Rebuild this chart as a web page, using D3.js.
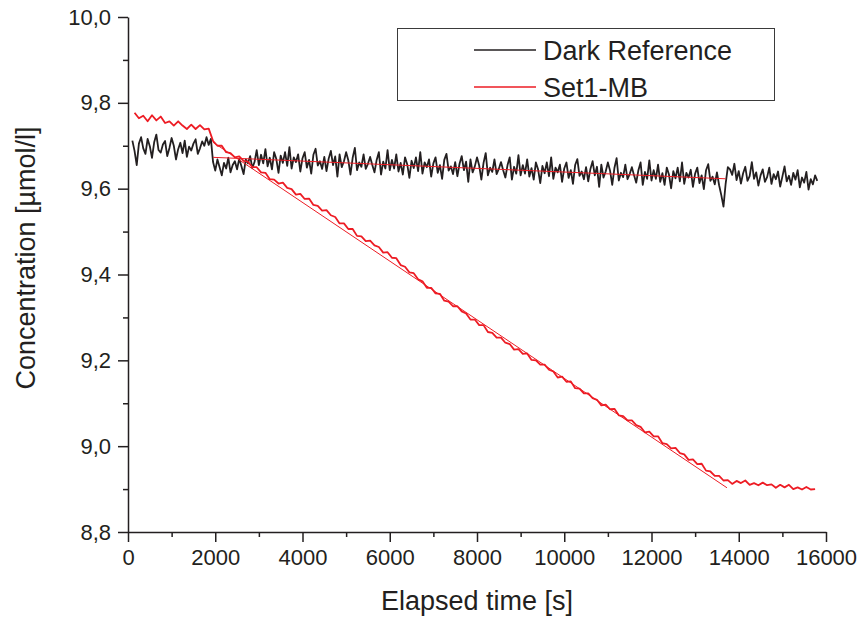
<!DOCTYPE html>
<html>
<head>
<meta charset="utf-8">
<script src="https://cdn.jsdelivr.net/npm/d3@7"></script>
<style>
body { margin: 0; background: #fff; }
svg { font-family: "Liberation Sans", Arial, Helvetica, sans-serif; }
.axis path, .axis line { stroke: #231f20; stroke-width: 1.5; }
.axis text { fill: #231f20; font-size: 22px; font-family: "Liberation Sans", Arial, sans-serif; }
</style>
</head>
<body>
<svg width="863" height="619"></svg>
<script>
// sampling of the two recorded series
const darkStart = 100, darkStep = 50;
const setStart = 150, setStep = 100;

// Dark Reference (black), one value every 50 s from 100 s
const darkValues = [
    9.712, 9.688, 9.655, 9.705, 9.720, 9.694, 9.681, 9.716, 9.699, 9.672,
    9.708, 9.726, 9.690, 9.684, 9.703, 9.711, 9.676, 9.695, 9.718, 9.700,
    9.668, 9.692, 9.707, 9.683, 9.712, 9.674, 9.698, 9.689, 9.705, 9.715,
    9.681, 9.694, 9.710, 9.700, 9.720, 9.702, 9.716,
    9.662, 9.642, 9.668, 9.650, 9.631, 9.660, 9.647, 9.672, 9.638, 9.655,
    9.664, 9.645, 9.670, 9.652, 9.634, 9.668, 9.659, 9.676, 9.648, 9.662,
    9.690, 9.655,
    9.679, 9.659, 9.692, 9.652, 9.672, 9.645, 9.685, 9.669, 9.637, 9.677,
    9.660, 9.685, 9.653, 9.697, 9.647, 9.673, 9.662, 9.680, 9.640, 9.671,
    9.685, 9.649, 9.667, 9.635, 9.679, 9.693, 9.654, 9.664, 9.646, 9.674,
    9.641, 9.670, 9.688, 9.655, 9.675, 9.628, 9.680, 9.650, 9.664, 9.685,
    9.666, 9.633, 9.672, 9.695, 9.643, 9.661, 9.651, 9.680, 9.646, 9.658,
    9.674, 9.655, 9.638, 9.667, 9.685, 9.633, 9.663, 9.647, 9.690, 9.643,
    9.667, 9.647, 9.680, 9.640, 9.660, 9.633, 9.673, 9.657, 9.625, 9.665,
    9.648, 9.673, 9.641, 9.685, 9.635, 9.661, 9.650, 9.668, 9.628, 9.659,
    9.673, 9.637, 9.655, 9.623, 9.667, 9.681, 9.642, 9.652, 9.634, 9.662,
    9.629, 9.658, 9.676, 9.643, 9.663, 9.616, 9.668, 9.638, 9.652, 9.673,
    9.654, 9.621, 9.660, 9.683, 9.631, 9.649, 9.639, 9.668, 9.634, 9.646,
    9.662, 9.643, 9.626, 9.655, 9.673, 9.621, 9.651, 9.635, 9.678, 9.631,
    9.655, 9.635, 9.668, 9.628, 9.648, 9.621, 9.661, 9.645, 9.613, 9.653,
    9.636, 9.661, 9.629, 9.673, 9.623, 9.649, 9.638, 9.656, 9.616, 9.647,
    9.661, 9.625, 9.643, 9.611, 9.655, 9.669, 9.630, 9.640, 9.622, 9.650,
    9.617, 9.646, 9.664, 9.631, 9.651, 9.604, 9.656, 9.626, 9.640, 9.661,
    9.642, 9.609, 9.648, 9.671, 9.619, 9.637, 9.627, 9.656, 9.622, 9.634,
    9.650, 9.631, 9.614, 9.643, 9.661, 9.609, 9.639, 9.623, 9.666, 9.619,
    9.643, 9.623, 9.656, 9.616, 9.636, 9.609, 9.649, 9.633, 9.601, 9.641,
    9.624, 9.649, 9.617, 9.661, 9.611, 9.637, 9.626, 9.644, 9.604, 9.635,
    9.649, 9.613, 9.631, 9.599, 9.643, 9.657, 9.618, 9.628, 9.610, 9.638,
    9.608, 9.585, 9.558, 9.612, 9.650,
    9.645, 9.632, 9.658, 9.620, 9.641, 9.612, 9.636, 9.651, 9.618, 9.629,
    9.662, 9.623, 9.638, 9.607, 9.631, 9.645, 9.616, 9.627, 9.649, 9.611,
    9.634, 9.622, 9.640, 9.605, 9.628, 9.652, 9.617, 9.630, 9.609, 9.637,
    9.621, 9.643, 9.603, 9.626, 9.614, 9.639, 9.598, 9.622, 9.610, 9.631,
    9.618
];

// Set1-MB (red), one value every 100 s from 150 s
const setValues = [
    9.777, 9.764, 9.770, 9.757, 9.771, 9.759, 9.768, 9.753, 9.757, 9.747,
    9.757, 9.747, 9.739, 9.749, 9.739, 9.748, 9.738, 9.740,
    9.711, 9.700, 9.700, 9.685, 9.683, 9.673, 9.675, 9.665, 9.663, 9.650,
    9.650, 9.638, 9.637, 9.622, 9.621, 9.612, 9.614, 9.602, 9.599, 9.586,
    9.588, 9.576, 9.577, 9.562, 9.560, 9.549, 9.550, 9.538, 9.534, 9.519,
    9.519, 9.506, 9.506, 9.490, 9.489, 9.478, 9.479, 9.468, 9.464, 9.451,
    9.452, 9.439, 9.438, 9.422, 9.418, 9.405, 9.403, 9.389, 9.384, 9.369,
    9.369, 9.356, 9.355, 9.339, 9.337, 9.326, 9.326, 9.314, 9.309, 9.295,
    9.295, 9.282, 9.282, 9.266, 9.264, 9.253, 9.253, 9.241, 9.238, 9.225,
    9.226, 9.215, 9.216, 9.201, 9.200, 9.190, 9.190, 9.178, 9.174, 9.160,
    9.162, 9.150, 9.151, 9.135, 9.134, 9.123, 9.123, 9.112, 9.108, 9.095,
    9.097, 9.086, 9.087, 9.072, 9.070, 9.060, 9.060, 9.049, 9.045, 9.032,
    9.034, 9.023, 9.023, 9.007, 9.005, 8.995, 8.996, 8.984, 8.981, 8.968,
    8.969, 8.958, 8.959, 8.943, 8.941, 8.931, 8.931, 8.920, 8.921, 8.912,
    8.919, 8.914, 8.920, 8.910, 8.914, 8.909, 8.915, 8.909, 8.911, 8.903,
    8.910, 8.904, 8.910, 8.900, 8.904, 8.899, 8.905, 8.899, 8.900
];

// linear fits (thin red lines)
const darkFit = [[1950, 9.673], [13700, 9.623]];
const setFit = [[1950, 9.708], [13730, 8.903]];

const xMajor = [0, 2000, 4000, 6000, 8000, 10000, 12000, 14000, 16000];
const xMinor = [1000, 3000, 5000, 7000, 9000, 11000, 13000, 15000];
const yMajor = [8.8, 9.0, 9.2, 9.4, 9.6, 9.8, 10.0];
const yMinor = [8.9, 9.1, 9.3, 9.5, 9.7, 9.9];

const seriesNames = ["Dark Reference", "Set1-MB"];
const seriesColors = ["#231f20", "#ed1c24"];

const svg = d3.select("svg");
const margin = { top: 17, right: 37, bottom: 87, left: 128 };
const width = Number(svg.attr("width")) - margin.left - margin.right;
const height = Number(svg.attr("height")) - margin.top - margin.bottom;
const g = svg.append("g")
    .attr("transform", `translate(${margin.left},${margin.top})`);

const xScale = d3.scaleLinear().domain([0, 16000]).range([0, width]);
const yScale = d3.scaleLinear().domain([8.8, 10.0]).range([height, 0]);

// x軸
g.append("g")
    .attr("class", "axis")
    .attr("transform", `translate(0, ${height})`)
    .call(d3.axisBottom(xScale).tickValues(xMinor).tickSize(5).tickSizeOuter(0).tickFormat(""))
    .call(a => a.select(".domain").remove());
g.append("g")
    .attr("class", "axis")
    .attr("transform", `translate(0, ${height})`)
    .call(d3.axisBottom(xScale).tickValues(xMajor).tickSize(10).tickSizeOuter(0).tickPadding(7)
        .tickFormat(d => String(d)));

// y軸
g.append("g")
    .attr("class", "axis")
    .call(d3.axisLeft(yScale).tickValues(yMinor).tickSize(5).tickSizeOuter(0).tickFormat(""))
    .call(a => a.select(".domain").remove());
g.append("g")
    .attr("class", "axis")
    .call(d3.axisLeft(yScale).tickValues(yMajor).tickSize(10).tickSizeOuter(0).tickPadding(7)
        .tickFormat(d => d.toFixed(1).replace(".", ",")));

svg.append("text")
    .attr("x", margin.left + width / 2)
    .attr("y", 610)
    .attr("text-anchor", "middle")
    .attr("font-size", 27)
    .attr("fill", "#231f20")
    .text("Elapsed time [s]");
svg.append("text")
    .attr("transform", "translate(35, 258) rotate(-90)")
    .attr("text-anchor", "middle")
    .attr("font-size", 27)
    .attr("fill", "#231f20")
    .text("Concentration [µmol/l]");

const line = d3.line()
    .x(d => xScale(d[0]))
    .y(d => yScale(d[1]));

const darkData = darkValues.map((v, i) => [darkStart + i * darkStep, v]);
const setData = setValues.map((v, i) => [setStart + i * setStep, v]);

g.append("path")
    .datum(darkData)
    .attr("d", line)
    .attr("stroke", seriesColors[0])
    .attr("stroke-width", 1.8)
    .attr("stroke-linejoin", "round")
    .attr("fill", "none");
g.append("path")
    .datum(setData)
    .attr("d", line)
    .attr("stroke", seriesColors[1])
    .attr("stroke-width", 1.8)
    .attr("stroke-linejoin", "round")
    .attr("fill", "none");
[darkFit, setFit].forEach(f => {
    g.append("path")
        .datum(f)
        .attr("d", line)
        .attr("stroke", seriesColors[1])
        .attr("stroke-width", 1)
        .attr("fill", "none");
});

// 凡例
const legend = svg.append("g");
legend.append("rect")
    .attr("x", 397.5).attr("y", 28.5)
    .attr("width", 377).attr("height", 72)
    .attr("fill", "#fff")
    .attr("stroke", "#3a3a3a")
    .attr("stroke-width", 1);
seriesNames.forEach((name, i) => {
    const yy = 50 + i * 37;
    legend.append("line")
        .attr("x1", 474).attr("x2", 536)
        .attr("y1", yy).attr("y2", yy)
        .attr("stroke", seriesColors[i])
        .attr("stroke-width", 1.3);
    legend.append("text")
        .attr("x", 543)
        .attr("y", yy + 10)
        .attr("font-size", 27)
        .attr("fill", "#231f20")
        .text(name);
});
</script>
</body>
</html>
